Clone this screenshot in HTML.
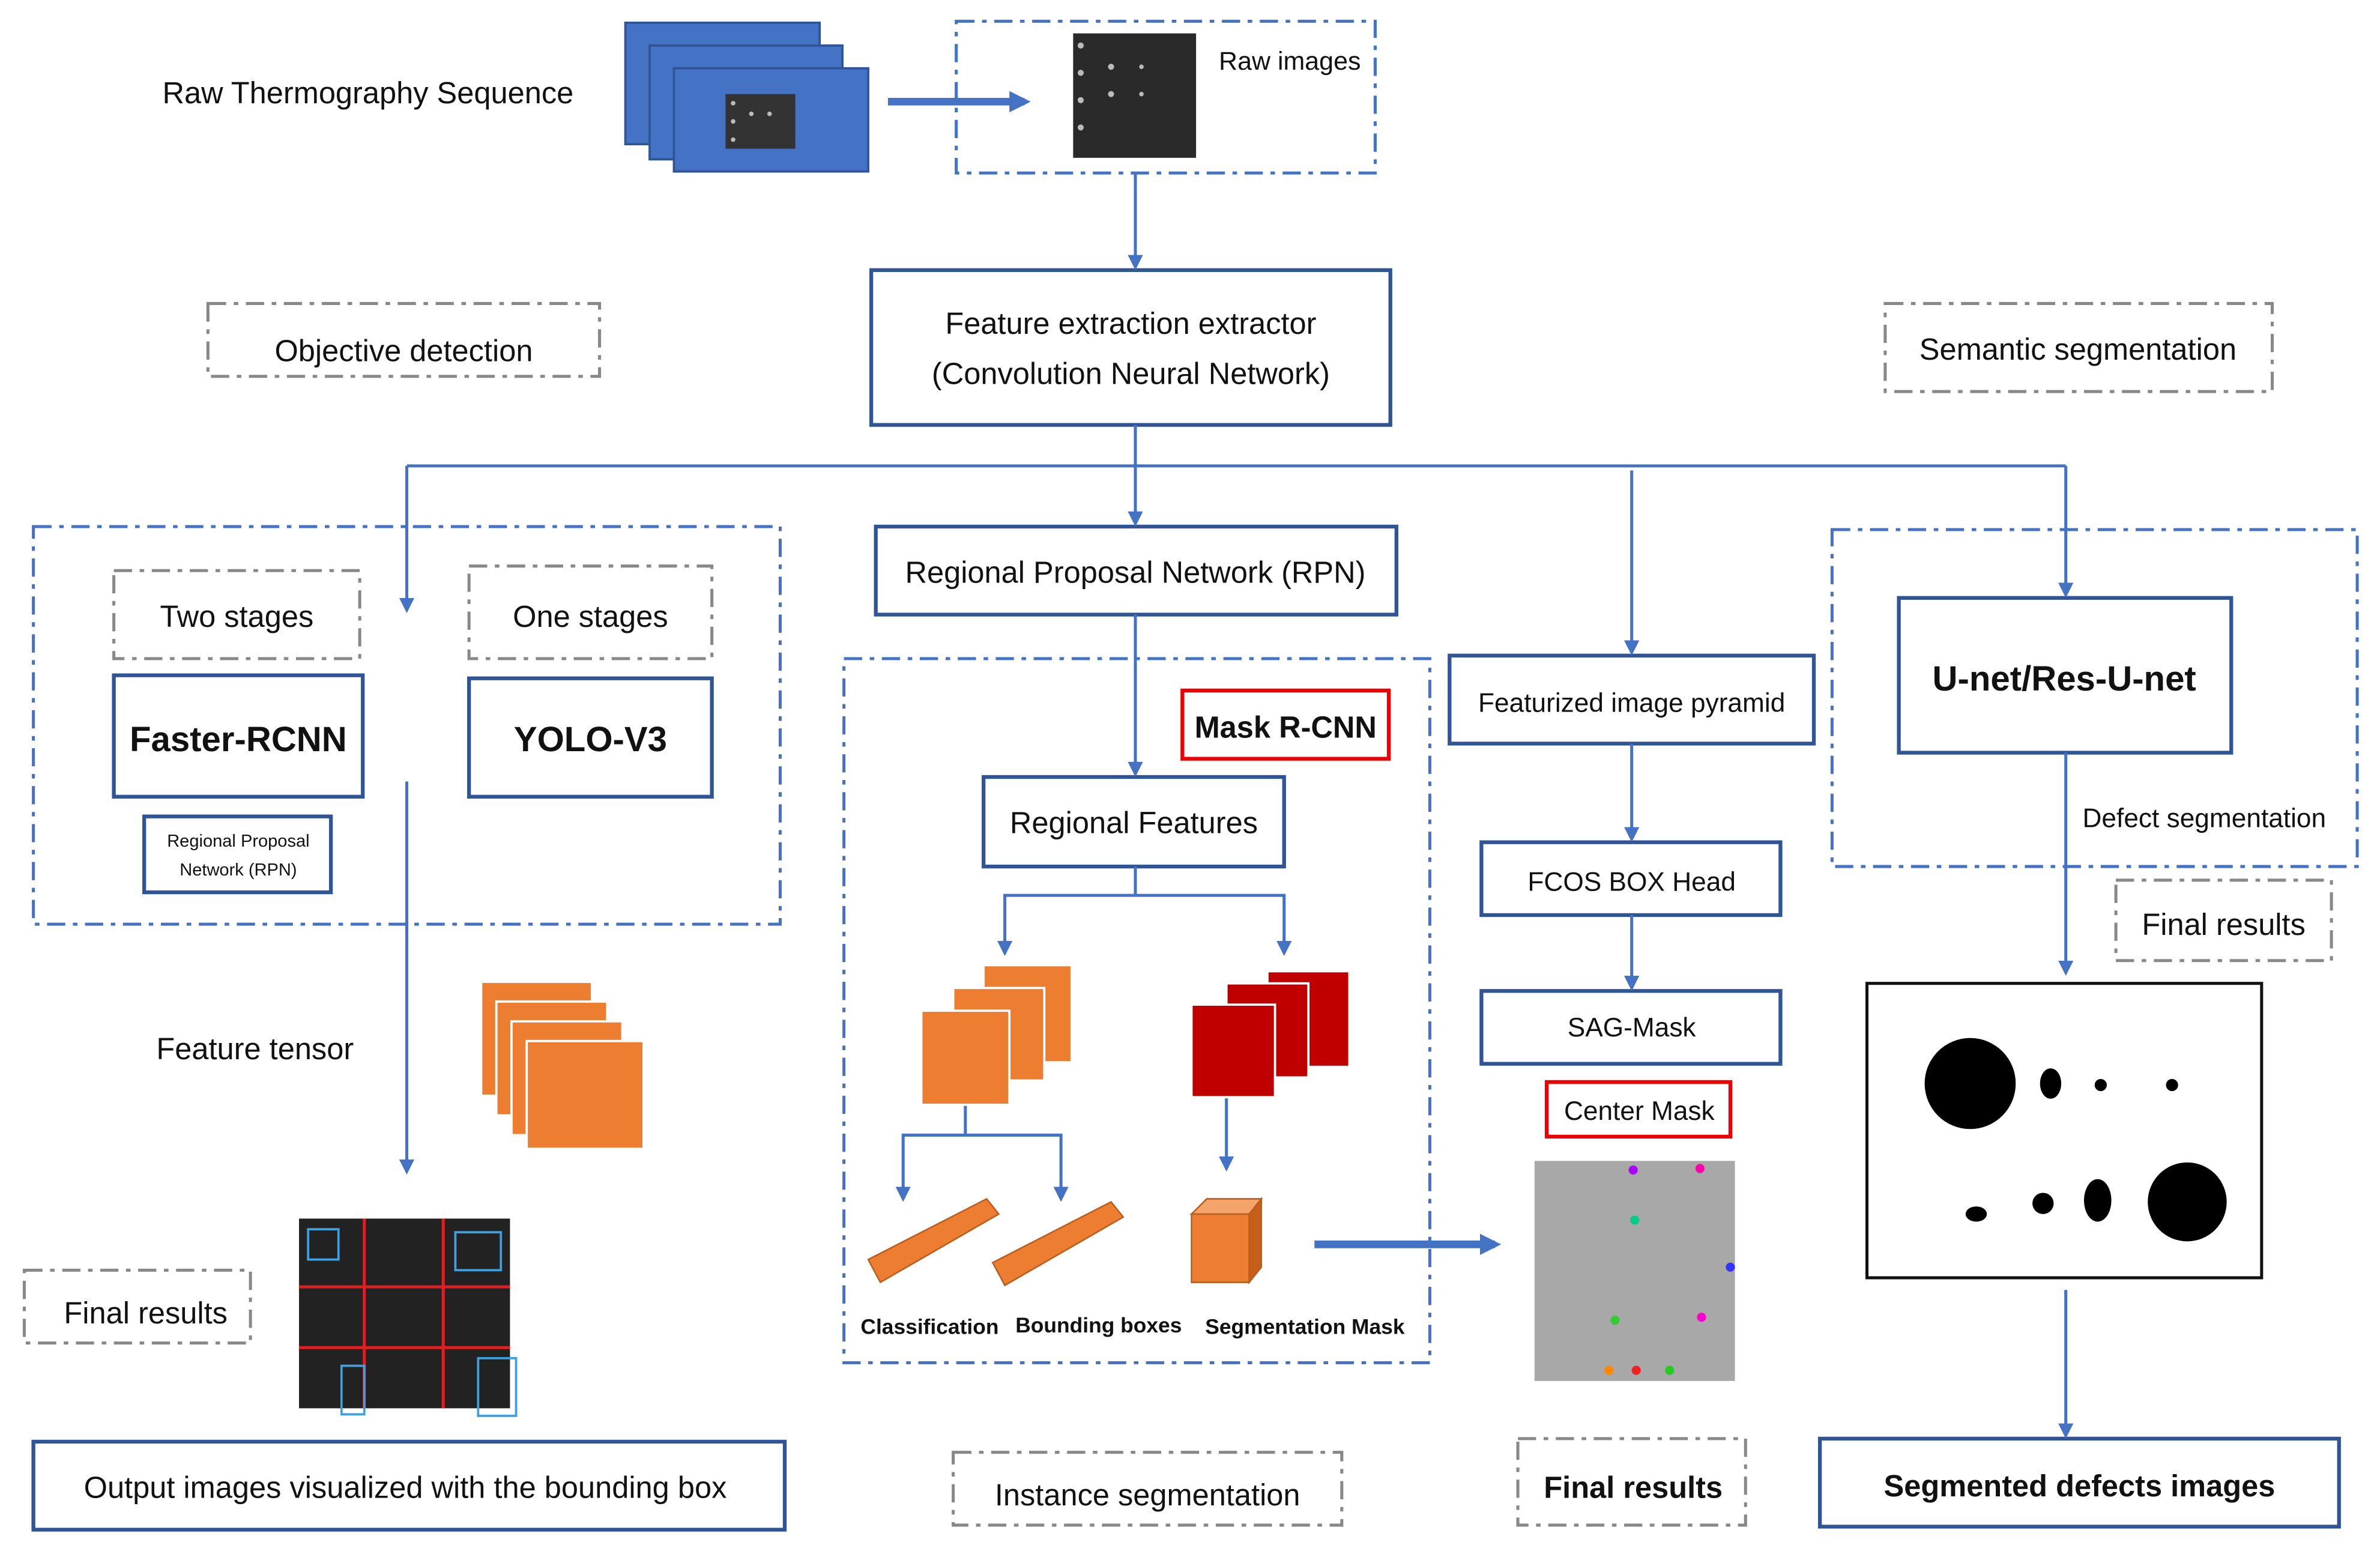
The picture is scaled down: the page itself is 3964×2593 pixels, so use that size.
<!DOCTYPE html>
<html><head><meta charset="utf-8"><style>
html,body{margin:0;padding:0;background:#fff;}
svg{display:block;}
text{font-family:"Liberation Sans",sans-serif;fill:#111;}
</style></head><body>
<svg width="3964" height="2593" viewBox="0 0 1568 1026" preserveAspectRatio="none" xmlns="http://www.w3.org/2000/svg">
<defs>
<marker id="ah" markerWidth="10" markerHeight="10" refX="8" refY="5" orient="auto" markerUnits="userSpaceOnUse"><path d="M0,0 L10,5 L0,10 z" fill="#4472c4"/></marker>
<marker id="ahb" markerWidth="14" markerHeight="14" refX="10" refY="7" orient="auto" markerUnits="userSpaceOnUse"><path d="M0,0 L14,7 L0,14 z" fill="#4472c4"/></marker>
</defs>
<g fill="none" stroke="#4472c4" stroke-width="2">
<rect x="630" y="14" width="276" height="100" stroke-dasharray="12,5,3,5"/>
<rect x="22" y="347" width="492" height="262" stroke-dasharray="12,5,3,5"/>
<rect x="556" y="434" width="386" height="464" stroke-dasharray="12,5,3,5"/>
<rect x="1207" y="349" width="346" height="222" stroke-dasharray="12,5,3,5"/>
</g>
<g fill="none" stroke="#888" stroke-width="2" stroke-dasharray="12,5,3,5">
<rect x="137" y="200" width="258" height="48"/>
<rect x="1242" y="200" width="255" height="58"/>
<rect x="75" y="376" width="162" height="58"/>
<rect x="309" y="373" width="160" height="61"/>
<rect x="16" y="837" width="149" height="48"/>
<rect x="628" y="957" width="256" height="48"/>
<rect x="1000" y="948" width="150" height="57"/>
<rect x="1394" y="580" width="142" height="53"/>
</g>
<g fill="#fff" stroke="#2f5597" stroke-width="2.5">
<rect x="574" y="178" width="342" height="102"/>
<rect x="75" y="445" width="164" height="80"/>
<rect x="309" y="447" width="160" height="78"/>
<rect x="95" y="538" width="123" height="50"/>
<rect x="22" y="950" width="495" height="58"/>
<rect x="577" y="347" width="343" height="58"/>
<rect x="648" y="512" width="198" height="59"/>
<rect x="955" y="432" width="240" height="58"/>
<rect x="976" y="555" width="197" height="48"/>
<rect x="976" y="653" width="197" height="48"/>
<rect x="1251" y="394" width="219" height="102"/>
<rect x="1199" y="948" width="342" height="58"/>
</g>
<g fill="#fff" stroke="#e00" stroke-width="2.5">
<rect x="779" y="455" width="136" height="45"/>
<rect x="1019" y="713" width="121" height="36"/>
</g>
<g stroke="#4472c4" stroke-width="2" fill="none">
<line x1="748" y1="114" x2="748" y2="176" marker-end="url(#ah)"/>
<line x1="268" y1="307" x2="1361" y2="307"/>
<line x1="748" y1="280" x2="748" y2="345" marker-end="url(#ah)"/>
<line x1="268" y1="307" x2="268" y2="402" marker-end="url(#ah)"/>
<line x1="1075" y1="310" x2="1075" y2="430" marker-end="url(#ah)"/>
<line x1="1361" y1="307" x2="1361" y2="392" marker-end="url(#ah)"/>
<line x1="268" y1="515" x2="268" y2="772" marker-end="url(#ah)"/>
<line x1="748" y1="405" x2="748" y2="510" marker-end="url(#ah)"/>
<polyline points="748,571 748,590 662,590 662,628" marker-end="url(#ah)"/>
<polyline points="748,590 846,590 846,628" marker-end="url(#ah)"/>
<polyline points="636,728 636,748 595,748 595,790" marker-end="url(#ah)"/>
<polyline points="636,748 699,748 699,790" marker-end="url(#ah)"/>
<line x1="808" y1="723" x2="808" y2="770" marker-end="url(#ah)"/>
<line x1="1075" y1="490" x2="1075" y2="553" marker-end="url(#ah)"/>
<line x1="1075" y1="603" x2="1075" y2="651" marker-end="url(#ah)"/>
<line x1="1361" y1="496" x2="1361" y2="641" marker-end="url(#ah)"/>
<line x1="1361" y1="850" x2="1361" y2="946" marker-end="url(#ah)"/>
<line x1="585" y1="67" x2="675" y2="67" stroke-width="5" marker-end="url(#ahb)"/>
<line x1="866" y1="820" x2="985" y2="820" stroke-width="5" marker-end="url(#ahb)"/>
</g>
<g fill="#4472c4" stroke="#2f5597" stroke-width="1.5">
<rect x="412" y="15" width="128" height="80"/>
<rect x="428" y="30" width="127" height="75"/>
<rect x="444" y="45" width="128" height="68"/>
</g>
<rect x="478" y="62" width="46" height="36" fill="#333"/>
<g fill="#bbb"><circle cx="483" cy="68" r="1.5"/><circle cx="483" cy="80" r="1.5"/><circle cx="483" cy="92" r="1.5"/><circle cx="495" cy="75" r="1.5"/><circle cx="507" cy="75" r="1.5"/></g>
<rect x="707" y="22" width="81" height="82" fill="#2a2a2a"/>
<g fill="#bbb"><circle cx="712" cy="30" r="2"/><circle cx="712" cy="48" r="2"/><circle cx="712" cy="66" r="2"/><circle cx="712" cy="84" r="2"/><circle cx="732" cy="44" r="2"/><circle cx="732" cy="62" r="2"/><circle cx="752" cy="44" r="1.5"/><circle cx="752" cy="62" r="1.5"/></g>
<g fill="#ed7d31" stroke="#fff" stroke-width="1.5">
<rect x="317" y="647" width="73" height="75"/>
<rect x="327" y="660" width="73" height="75"/>
<rect x="337" y="673" width="73" height="75"/>
<rect x="347" y="686" width="77" height="71"/>
<rect x="648" y="636" width="58" height="64"/>
<rect x="628" y="651" width="60" height="61"/>
<rect x="607" y="666" width="58" height="62"/>
</g>
<g fill="#c00000" stroke="#fff" stroke-width="1.5">
<rect x="835" y="640" width="54" height="63"/>
<rect x="808" y="648" width="54" height="62"/>
<rect x="785" y="662" width="55" height="61"/>
</g>
<g fill="#ed7d31" stroke="#b85e1e" stroke-width="1">
<polygon points="572,830 650,790 658,800 580,845"/>
<polygon points="654,832 732,792 740,802 662,847"/>
<polygon points="785,800 823,800 823,845 785,845"/>
<polygon points="785,800 795,790 831,790 823,800" fill="#f4a46a"/>
<polygon points="823,800 831,790 831,835 823,845" fill="#c55f1a"/>
</g>
<rect x="197" y="803" width="139" height="125" fill="#222"/>
<g stroke="#e02020" stroke-width="2"><line x1="197" y1="848" x2="336" y2="848"/><line x1="197" y1="888" x2="336" y2="888"/><line x1="240" y1="803" x2="240" y2="928"/><line x1="292" y1="803" x2="292" y2="928"/></g>
<g fill="none" stroke="#3fa0e0" stroke-width="1.5"><rect x="203" y="810" width="20" height="20"/><rect x="300" y="812" width="30" height="25"/><rect x="315" y="895" width="25" height="38"/><rect x="225" y="900" width="15" height="32"/></g>
<rect x="1011" y="765" width="132" height="145" fill="#a8a8a8"/>
<g><circle cx="1076" cy="771" r="3" fill="#a0f"/><circle cx="1120" cy="770" r="3" fill="#f0a"/><circle cx="1077" cy="804" r="3" fill="#0c8"/><circle cx="1121" cy="868" r="3" fill="#f0c"/><circle cx="1064" cy="870" r="3" fill="#3c3"/><circle cx="1060" cy="903" r="3" fill="#f80"/><circle cx="1078" cy="903" r="3" fill="#e22"/><circle cx="1100" cy="903" r="3" fill="#2c2"/><circle cx="1140" cy="835" r="3" fill="#33f"/></g>
<rect x="1230" y="648" width="260" height="194" fill="#fff" stroke="#111" stroke-width="2"/>
<g fill="#000"><circle cx="1298" cy="714" r="30"/><ellipse cx="1351" cy="714" rx="7" ry="10"/><circle cx="1384" cy="715" r="4"/><circle cx="1431" cy="715" r="4"/><ellipse cx="1302" cy="800" rx="7" ry="5"/><circle cx="1346" cy="793" r="7"/><ellipse cx="1382" cy="791" rx="9" ry="14"/><circle cx="1441" cy="792" r="26"/></g>
<g font-size="20">
<text x="107" y="68">Raw Thermography Sequence</text>
<text x="803" y="46" font-size="17">Raw images</text>
<text x="745" y="220" text-anchor="middle">Feature extraction extractor</text>
<text x="745" y="253" text-anchor="middle">(Convolution Neural Network)</text>
<text x="266" y="238" text-anchor="middle">Objective detection</text>
<text x="1369" y="237" text-anchor="middle">Semantic segmentation</text>
<text x="156" y="413" text-anchor="middle">Two stages</text>
<text x="389" y="413" text-anchor="middle">One stages</text>
<text x="748" y="384" text-anchor="middle">Regional Proposal Network (RPN)</text>
<text x="747" y="549" text-anchor="middle">Regional Features</text>
<text x="103" y="698">Feature tensor</text>
<text x="96" y="872" text-anchor="middle">Final results</text>
<text x="267" y="987" text-anchor="middle">Output images visualized with the bounding box</text>
<text x="756" y="992" text-anchor="middle">Instance segmentation</text>
<text x="1465" y="616" text-anchor="middle">Final results</text>
</g>
<g font-size="23" font-weight="bold">
<text x="157" y="495" text-anchor="middle">Faster-RCNN</text>
<text x="389" y="495" text-anchor="middle">YOLO-V3</text>
<text x="1360" y="455" text-anchor="middle">U-net/Res-U-net</text>
</g>
<g font-size="20" font-weight="bold">
<text x="847" y="486" text-anchor="middle">Mask R-CNN</text>
<text x="1076" y="987" text-anchor="middle">Final results</text>
<text x="1370" y="986" text-anchor="middle">Segmented defects images</text>
</g>
<g font-size="11.5" text-anchor="middle"><text x="157" y="558">Regional Proposal</text><text x="157" y="577">Network (RPN)</text></g>
<g font-size="17.5" text-anchor="middle">
<text x="1075" y="469">Featurized image pyramid</text>
<text x="1075" y="587">FCOS BOX Head</text>
<text x="1075" y="683">SAG-Mask</text>
<text x="1080" y="738">Center Mask</text>
</g>
<text x="1372" y="545" font-size="17.5">Defect segmentation</text>
<g font-size="14" font-weight="bold"><text x="567" y="879">Classification</text><text x="669" y="878">Bounding boxes</text><text x="794" y="879">Segmentation Mask</text></g>
</svg>
</body></html>
